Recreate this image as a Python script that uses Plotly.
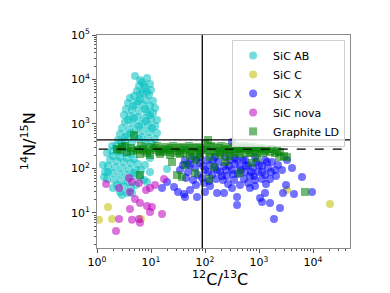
import plotly.graph_objects as go

# ---- data: 12C/13C (x) and 14N/15N (y) ----
ab_x = [5.05, 8.43, 6.81, 9.58, 5.99, 7.74, 10.0, 5.5, 7.11, 9.18, 4.84, 4.08, 6.25, 8.08, 10.9,
        3.75, 5.27, 7.11, 9.58, 11.9, 3.44, 4.45, 5.99, 8.43, 10.9, 3.16, 4.08, 5.5, 7.42, 10.0,
        12.9, 3.30, 4.64, 6.53, 8.80, 11.9, 2.90, 3.91, 5.27, 7.11, 9.58, 12.9, 2.67, 3.59, 4.84,
        6.53, 8.80, 11.9, 2.45, 3.30, 4.45, 7.74, 10.4,
        2.25, 2.90, 3.75, 5.74, 1.90, 2.45, 3.30, 4.26, 1.98, 2.67, 3.59, 4.84, 1.74, 2.35, 3.16,
        4.26, 5.74, 1.60, 2.15, 2.90, 3.91, 5.27, 1.41, 1.90, 2.56, 3.44, 4.64, 6.25, 1.35, 1.53,
        2.07, 2.78, 3.75, 2.35, 3.16, 4.26, 2.67, 3.59, 2.90, 4.45, 9.58, 8.43, 7.74, 9.58, 19.8,
        6.25, 7.42, 8.43, 6.25, 5.74, 4.64, 7.74, 9.58, 4.84, 3.75, 8.08, 5.99, 10.4, 4.26, 3.30,
        5.99, 2.78, 1.90, 1.53, 1.29, 1.60, 4.84, 6.53, 7.42, 5.27, 1.98]
ab_y = [12000, 10800, 8790, 7930, 7150, 6450, 5810, 5520, 4980, 4490, 4260, 3840, 3650, 3460, 3290,
        2960, 2810, 2670, 2540, 2290, 2170, 2060, 1960, 1860, 1770, 1590, 1510, 1440, 1360, 1290,
        1230, 1110, 1050, 1000, 950, 902, 813, 773, 733, 697, 661, 628, 596, 566, 537,
        510, 484, 460, 437, 415, 394, 374, 356,
        320, 304, 289, 274, 247, 235, 223, 212, 191, 181, 172, 163, 155, 147, 140,
        133, 126, 114, 108, 103, 97.5, 92.5, 83.4, 79.2, 75.2, 71.4, 67.8, 64.4, 64.4, 58.1,
        55.2, 52.4, 49.8, 42.6, 40.5, 36.5, 29.7, 28.1, 25.4, 28.1, 83.4, 49.8, 120, 172, 97.5,
        9700, 7520, 5240, 4720, 3290, 2540, 2170, 1590, 1360, 1230, 1170, 902, 813, 628, 510,
        460, 394, 320, 223, 120, 83.4, 79.2, 92.5, 55.2, 42.6, 36.5]

c_x = [1.09, 1.60, 1.90, 6.53, 20650, 3300, 255]
c_y = [7.0, 13.6, 7.3, 7.3, 15.9, 32.9, 140]

x_x = [42.6, 52.7, 48.4, 65.3, 80.8, 74.1, 100, 124, 109, 135, 153, 174, 190, 225, 255, 290, 316,
       359, 408, 445, 505, 550, 626, 681, 774, 880, 958, 1137, 1292, 1468, 1741, 1978, 2250, 2065,
       2666, 44.5, 60, 88, 119, 160, 215, 344, 527, 843, 1137, 1598, 57.4, 80.8, 153, 234, 359,
       550, 843, 1292,
       16.0, 19.8, 26.7, 31.6, 40.8, 52.7, 71.1, 100, 167, 225, 316, 392, 445, 681, 843, 1044,
       1292, 1598, 1896, 2448, 3162, 2782, 4447, 6253, 9580, 3300, 4083, 316, 124, 392, 1137, 42.6,
       48.4, 68.1, 91.8, 114, 141, 167, 206, 245, 278, 330, 392, 464, 574, 711, 808, 1000, 1137,
       1406, 1668, 68.1, 95.8, 267, 626, 1349, 34.4, 39.1]
x_y = [155, 120, 83.4, 103, 133, 71.4, 92.5, 120, 155, 71.4, 103, 140, 83.4, 114, 67.8, 155, 92.5,
       126, 75.2, 108, 155, 83.4, 120, 67.8, 103, 140, 83.4, 114, 71.4, 103, 140, 92.5, 120, 67.8,
       92.5, 61.2, 55.2, 61.2, 52.4, 58.1, 55.2, 55.2, 58.1, 55.2, 58.1, 58.1, 172, 181, 181, 181, 172,
       155, 181, 155,
       36.5, 49.8, 38.4, 29.7, 26.7, 32.9, 22.9, 29.7, 28.1, 28.1, 36.5, 22.9, 42.6, 36.5, 40.5, 21.7,
       28.1, 16.8, 7.3, 12.9, 42.6, 28.1, 26.7, 64.4, 29.7, 155, 103, 394, 40.5, 15.1, 17.7, 22.9,
       126, 155, 114, 83.4, 155, 92.5, 67.8, 92.5, 114, 75.2, 155, 92.5, 114, 83.4, 67.8, 120, 83.4,
       140, 83.4, 42.6, 47.3, 44.9, 47.3, 44.9, 92.5, 120]

nova_x = [1.47, 2.56, 3.91, 4.45, 5.99, 4.08, 5.05, 6.25, 8.08, 9.58, 11.9, 17.4, 8.43, 10.4,
          9.58, 4.08, 16.0, 2.56, 4.45, 5.99, 6.25, 2.25]
nova_y = [44.9, 36.5, 61.2, 49.8, 47.3, 29.7, 20.6, 16.8, 32.9, 36.5, 42.6, 58.1, 14.4, 13.6,
          10.5, 12.3, 9.5, 7.3, 7.0, 7.3, 6.0, 3.94]

gr_x = [4.84, 2.35, 2.90, 3.59, 4.26, 5.5, 6.53, 7.74, 9.18, 10.9, 12.9, 15.3, 18.2, 21.5, 25.6,
        30.3, 35.9, 42.6, 50.6, 60, 71.1, 84.3, 100, 114, 119, 141, 167, 198, 234, 278, 330, 392,
        464, 550, 653, 774, 918, 1090, 1292, 1598, 1978, 2448, 2904,
        6.25, 9.58, 14.7, 22.5, 34.4, 52.7, 80.8, 124, 190, 290, 445, 681,
        6.25, 24.5, 30.3, 37.5, 65.3, 119, 147, 234, 445, 742, 918, 2346, 3300, 7112, 65.3, 42.6,
        2.67, 3.30, 4.64, 7.11, 8.43, 11.9, 14.1, 16.7, 19.8, 23.5, 27.8, 33.0, 39.1, 46.4, 55.0,
        65.3, 77.4, 91.8, 109, 129, 153, 182, 215, 255, 303, 359, 426, 505, 600, 711, 843, 1000,
        1186, 1406, 1741, 2154]
gr_y = [566, 274, 304, 235, 289, 260, 320, 247, 304, 260, 320, 247, 304, 260, 320,
        247, 304, 260, 320, 247, 304, 260, 356, 437, 235, 304, 247, 320, 260, 304, 247, 320,
        274, 320, 260, 304, 260, 289, 247, 235, 223, 235, 191,
        212, 201, 212, 201, 212, 191, 201, 181, 201, 191, 212, 223,
        71.4, 140, 71.4, 64.4, 79.2, 58.1, 108, 140, 79.2, 133, 172, 181, 181, 29.7, 155, 120,
        260, 320, 247, 274, 223, 289, 235, 274, 235, 289, 223, 289, 223, 289, 235,
        289, 223, 289, 260, 320, 235, 289, 223, 274, 223, 274, 235, 289, 223, 289, 235, 274,
        223, 274, 274, 247]

solar_c = 89     # solar 12C/13C
solar_n = 441    # solar 14N/15N
earth_n = 272    # terrestrial 14N/15N

x_ticks = [1, 10, 100, 1000, 10000]
x_labels = ["10<sup>0</sup>", "10<sup>1</sup>", "10<sup>2</sup>", "10<sup>3</sup>", "10<sup>4</sup>"]
y_ticks = [10, 100, 1000, 10000, 100000]
y_labels = ["10<sup>1</sup>", "10<sup>2</sup>", "10<sup>3</sup>", "10<sup>4</sup>", "10<sup>5</sup>"]

FONT = "DejaVu Sans"
fig = go.Figure()

def add_series(xs, ys, name, color, symbol="circle"):
    fig.add_trace(go.Scatter(
        x=xs, y=ys, mode="markers", name=name,
        marker=dict(color=color, opacity=0.55, size=8, symbol=symbol, line=dict(width=0)),
    ))

add_series(ab_x, ab_y, "SiC AB", "#00bfbf")
add_series(c_x, c_y, "SiC C", "#bfbf00")
add_series(x_x, x_y, "SiC X", "#0000ff")
add_series(nova_x, nova_y, "SiC nova", "#bf00bf")
add_series(gr_x, gr_y, "Graphite LD", "#008000", symbol="square")

line_style = dict(color="black", width=1.3)
fig.add_trace(go.Scatter(x=[solar_c, solar_c], y=[1, 1e6], mode="lines",
                         line=line_style, showlegend=False, hoverinfo="skip"))
fig.add_trace(go.Scatter(x=[0.5, 1e5], y=[solar_n, solar_n], mode="lines",
                         line=line_style, showlegend=False, hoverinfo="skip"))
fig.add_trace(go.Scatter(x=[0.5, 1e5], y=[earth_n, earth_n], mode="lines",
                         line=dict(color="black", width=1.3, dash="dash"),
                         showlegend=False, hoverinfo="skip"))

minor_x = [k * 10 ** n for n in range(0, 5) for k in range(2, 10)]
minor_y = [k * 10 ** n for n in range(0, 5) for k in range(2, 10)]

axis_common = dict(
    type="log", showgrid=False, zeroline=False, showline=True, mirror=True,
    linecolor="#8a8a8a", linewidth=1, ticks="outside", ticklen=4, tickcolor="#555",
    tickfont=dict(family=FONT, size=11, color="black"), automargin=False,
)

fig.update_xaxes(**axis_common, range=[0, 4.685], tickmode="array",
                 tickvals=x_ticks, ticktext=x_labels,
                 minor=dict(tickmode="array", tickvals=minor_x, ticks="outside", ticklen=2,
                            tickcolor="#555", showgrid=False))
fig.update_yaxes(**axis_common, range=[0.213, 5], tickmode="array",
                 tickvals=y_ticks, ticktext=y_labels,
                 minor=dict(tickmode="array", tickvals=minor_y, ticks="outside", ticklen=2,
                            tickcolor="#555", showgrid=False))

fig.add_annotation(text="<sup>12</sup>C/<sup>13</sup>C", xref="paper", yref="paper",
                   x=0.486, y=-0.142, xanchor="center", yanchor="middle", showarrow=False,
                   font=dict(family=FONT, size=16, color="black"))
fig.add_annotation(text="<sup>14</sup>N/<sup>15</sup>N", xref="paper", yref="paper",
                   x=-0.27, y=0.5, xanchor="center", yanchor="middle", showarrow=False,
                   textangle=-90, font=dict(family=FONT, size=16, color="black"))

fig.update_layout(
    width=390, height=293,
    margin=dict(l=89, r=48, t=27, b=53),
    plot_bgcolor="white", paper_bgcolor="white",
    font=dict(family=FONT, size=11, color="black"),
    legend=dict(x=0.534, y=0.977, xanchor="left", yanchor="top",
                bgcolor="rgba(255,255,255,0.8)", bordercolor="#d0d0d0", borderwidth=1,
                font=dict(family=FONT, size=11, color="black"), tracegroupgap=0,
                itemwidth=30),
)

fig.write_html("out.html")
